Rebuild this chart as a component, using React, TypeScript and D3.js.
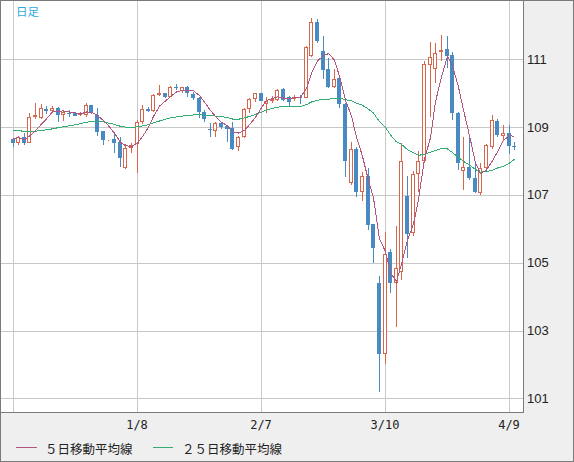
import React from 'react';
import * as d3 from 'd3';

// ---- data (USD/JPY daily, 12/9 .. 4/10) ----
const dateLabels = ['1/8', '2/7', '3/10', '4/9'];
const dateLabelIndex = [22, 44, 66, 88];
const gridIndex = [0, 22, 44, 66, 88];
const priceTicks = [101, 103, 105, 107, 109, 111];

// closes before the first visible candle (needed for moving averages)
const priorCloses = [
  109.15, 108.98, 109.3, 109.26, 109.05, 109.0, 108.8, 108.45, 108.8, 108.68, 108.6, 108.55,
  108.65, 108.68, 108.95, 109.05, 109.5, 109.5, 109.5, 109.0, 108.6, 108.85, 108.75, 108.58,
];

const opens = [
  108.64, 108.54, 108.72, 108.54, 109.29, 109.26, 109.54, 109.48, 109.55, 109.35,
  109.41, 109.41, 109.35, 109.36, 109.65, 109.36, 108.88, 108.62, 108.65, 108.57,
  107.8, 108.37, 108.5, 109.14, 109.53, 109.48, 109.94, 110.0, 109.9, 110.19,
  110.07, 110.19, 109.98, 109.85, 109.45, 108.95, 108.89, 109.11, 109.03, 108.96,
  108.4, 108.7, 109.53, 109.82, 110.0, 109.67, 109.78, 109.8, 110.12, 109.88,
  109.83, 109.89, 109.87, 111.11, 112.09, 111.24, 110.71, 110.17, 110.44, 109.67,
  107.34, 108.35, 107.1, 107.56, 106.14, 104.39, 102.3, 105.31, 104.41, 104.74,
  106.97, 105.87, 107.62, 108.0, 110.83, 110.71, 111.21, 111.29, 111.13, 109.41,
  107.7, 107.81, 107.49, 107.06, 107.8, 108.4, 109.19, 108.75, 108.84, 108.45,
];
const highs = [
  108.69, 108.74, 108.83, 109.42, 109.7, 109.67, 109.62, 109.63, 109.6, 109.47,
  109.49, 109.46, 109.45, 109.7, 109.66, 109.55, 108.88, 108.66, 108.86, 108.72,
  108.5, 108.52, 109.2, 109.65, 109.58, 109.97, 110.24, 110.02, 110.2, 110.27,
  110.19, 110.21, 110.05, 109.9, 109.5, 109.11, 109.15, 109.16, 109.06, 109.16,
  108.74, 109.56, 109.87, 110.02, 110.01, 109.88, 109.92, 110.12, 110.14, 109.92,
  109.95, 109.95, 111.4, 112.21, 112.2, 111.69, 111.03, 110.7, 110.48, 109.7,
  108.57, 108.4, 107.67, 107.8, 106.14, 104.61, 105.91, 105.4, 106.08, 108.52,
  107.57, 107.7, 108.3, 110.95, 111.52, 111.49, 111.72, 111.69, 111.22, 109.45,
  108.72, 108.74, 107.93, 107.95, 108.5, 109.36, 109.25, 109.06, 109.06, 108.57,
];
const lows = [
  108.42, 108.47, 108.46, 108.52, 109.23, 109.24, 109.39, 109.42, 109.16, 109.19,
  109.29, 109.32, 109.32, 109.29, 109.4, 108.74, 108.46, 108.6, 108.23, 107.83,
  107.76, 108.23, 107.64, 109.1, 109.44, 109.46, 109.92, 109.87, 109.88, 110.1,
  110.02, 109.88, 109.8, 109.26, 109.16, 108.72, 108.72, 108.95, 108.57, 108.32,
  108.3, 108.68, 109.42, 109.75, 109.77, 109.41, 109.7, 109.78, 109.78, 109.62,
  109.78, 109.68, 109.85, 111.08, 111.47, 110.42, 110.14, 110.14, 109.55, 107.52,
  107.3, 106.95, 106.83, 105.96, 105.0, 101.2, 102.0, 104.1, 103.11, 104.49,
  105.15, 105.8, 107.1, 107.95, 109.31, 110.3, 110.95, 110.73, 109.21, 107.73,
  107.14, 107.45, 107.05, 107.0, 107.75, 108.35, 108.7, 108.62, 108.21, 108.33,
];
const closes = [
  108.54, 108.72, 108.54, 109.29, 109.35, 109.55, 109.48, 109.57, 109.35, 109.45,
  109.38, 109.34, 109.41, 109.65, 109.43, 108.86, 108.62, 108.64, 108.54, 108.1,
  108.37, 108.47, 109.14, 109.52, 109.48, 109.95, 110.0, 109.9, 110.17, 110.17,
  110.17, 110.0, 109.85, 109.45, 109.24, 108.91, 109.13, 108.99, 108.94, 108.35,
  108.72, 109.53, 109.82, 110.0, 109.78, 109.78, 109.82, 110.09, 109.8, 109.75,
  109.9, 109.87, 111.35, 112.09, 111.55, 110.68, 110.17, 110.42, 109.67, 108.01,
  108.35, 107.1, 107.56, 106.11, 105.42, 102.3, 105.25, 104.41, 104.83, 108.0,
  105.85, 107.62, 108.01, 110.85, 111.08, 111.18, 111.27, 111.1, 109.41, 107.93,
  107.81, 107.49, 107.09, 107.8, 108.47, 109.21, 108.77, 108.82, 108.45, 108.41,
];

const legendLabels = ['５日移動平均線', '２５日移動平均線'];

// ---- styling ----
const W = 574;
const H = 462;
const PLOT_R = 523;
const PLOT_B = 412;
const UP = '#d8664c';
const DOWN = '#4a8ac2';
const MA5 = '#b0567f';
const MA25 = '#34ad73';
const GRID = '#c8c8c8';
const BORDER = '#7a7a7a';
const BG = '#efefef';

function movingAverage(n: number): number[] {
  const all = priorCloses.concat(closes);
  const off = priorCloses.length;
  return closes.map((_, i) => d3.mean(all.slice(off + i - n + 1, off + i + 1)) as number);
}

export default function App() {
  const x = d3.scaleLinear().domain([0, 88]).range([12.5, 508.5]);
  const y = d3.scaleLinear().domain([101, 111]).range([398.3, 59.3]);

  const ma5 = movingAverage(5);
  const ma25 = movingAverage(25);
  const line = d3
    .line<number>()
    .x((_, i) => Math.round(x(i)) + 0.5)
    .y((d) => y(d));

  const candles = closes.map((c, i) => {
    const o = opens[i];
    const px = Math.round(x(i));
    const wx = px + 0.5;
    const up = c >= o;
    const top = Math.round(y(Math.max(o, c)));
    const bot = Math.max(Math.round(y(Math.min(o, c))), top + 1);
    const hy = Math.round(y(highs[i]));
    const ly = Math.round(y(lows[i]));
    if (up) {
      return (
        <g key={i} stroke={UP} strokeWidth={1}>
          {hy < top && <line x1={wx} x2={wx} y1={hy} y2={top} />}
          {ly > bot && <line x1={wx} x2={wx} y1={bot} y2={ly} />}
          <rect x={px - 1.5} y={top + 0.5} width={3} height={Math.max(bot - top - 1, 0)} fill="#fff" />
        </g>
      );
    }
    return (
      <g key={i}>
        <line x1={wx} x2={wx} y1={hy} y2={ly} stroke={DOWN} strokeWidth={1} />
        <rect x={px - 2} y={top} width={4} height={Math.max(bot - top, 1)} fill={DOWN} />
      </g>
    );
  });

  return (
    <svg
      width={W}
      height={H}
      style={{ position: 'absolute', left: 0, top: 0, display: 'block' }}
      shapeRendering="crispEdges"
    >
      <rect x={0} y={0} width={W} height={H} fill={BG} />
      <rect x={0.5} y={0.5} width={W - 1} height={H - 1} fill="none" stroke={BORDER} />
      <rect x={0.5} y={0.5} width={PLOT_R} height={PLOT_B} fill="#fff" stroke={BORDER} />
      <g stroke={GRID} strokeWidth={1}>
        {priceTicks.map((t) => (
          <line key={t} x1={1} x2={PLOT_R} y1={Math.round(y(t)) + 0.5} y2={Math.round(y(t)) + 0.5} />
        ))}
        {gridIndex.map((gi) => (
          <line key={gi} x1={Math.round(x(gi)) + 0.5} x2={Math.round(x(gi)) + 0.5} y1={1} y2={PLOT_B} />
        ))}
      </g>
      <text x={16} y={10.5} fill="#2fa9e2" fontSize={11.5} fontFamily="'Noto Sans CJK JP', sans-serif" dominantBaseline="central">
        日足
      </text>
      {candles}
      <path d={line(ma25) || ''} fill="none" stroke={MA25} strokeWidth={1} />
      <path d={line(ma5) || ''} fill="none" stroke={MA5} strokeWidth={1} />
      {priceTicks.map((t) => (
        <text
          key={t}
          x={527}
          y={y(t)}
          fontSize={13}
          fontFamily="'Liberation Sans', Arial, sans-serif"
          fill="#222"
          dominantBaseline="central"
        >
          {t}
        </text>
      ))}
      {dateLabels.map((lab, k) => (
        <text
          key={lab}
          x={x(dateLabelIndex[k]) + 0.5}
          y={425}
          fontSize={12}
          fontFamily="'DejaVu Sans Mono', monospace"
          fill="#222"
          textAnchor="middle"
          dominantBaseline="central"
        >
          {lab}
        </text>
      ))}
      <g fontFamily="'Noto Sans CJK JP', sans-serif" fontSize={12.5} fill="#222">
        <line x1={16} x2={37} y1={447.5} y2={447.5} stroke={MA5} />
        <text x={45} y={448} dominantBaseline="central">{legendLabels[0]}</text>
        <line x1={153} x2={173} y1={447.5} y2={447.5} stroke={MA25} />
        <text x={182} y={448} dominantBaseline="central">{legendLabels[1]}</text>
      </g>
    </svg>
  );
}
